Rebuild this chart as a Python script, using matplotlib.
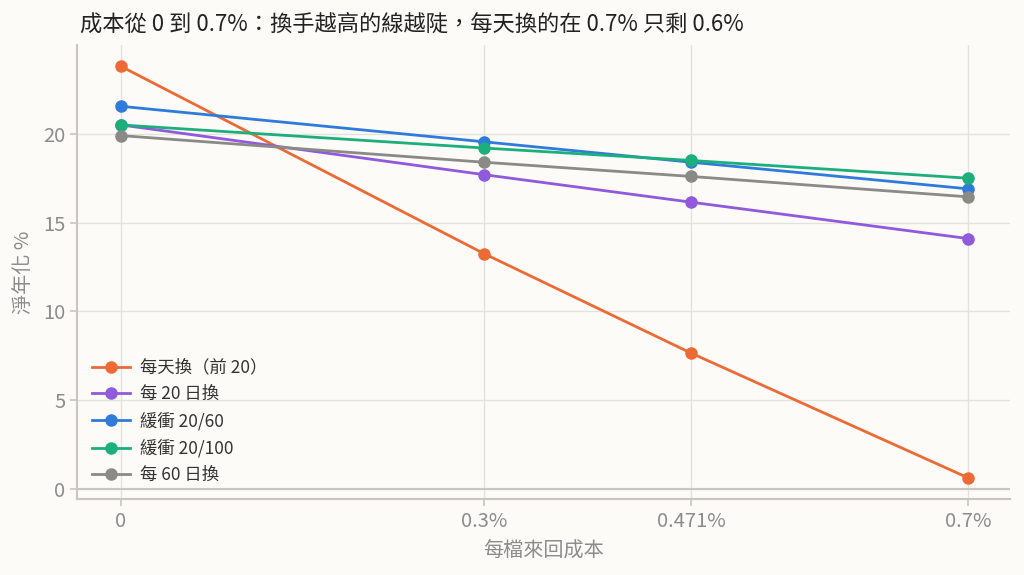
import matplotlib
matplotlib.use("Agg")
import matplotlib.pyplot as plt

plt.rcParams['font.family'] = ['Noto Sans CJK TC', 'DejaVu Sans']

costs = [0, 0.3, 0.471, 0.7]
tick_labels = ['0', '0.3%', '0.471%', '0.7%']
series_names = ['每天換（前 20）', '每 20 日換', '緩衝 20/60', '緩衝 20/100', '每 60 日換']
daily = [23.8, 13.25, 7.65, 0.62]
every20 = [20.5, 17.7, 16.15, 14.1]
buf60 = [21.55, 19.55, 18.4, 16.9]
buf100 = [20.5, 19.2, 18.5, 17.5]
every60 = [19.9, 18.4, 17.6, 16.45]
colors = ['#EE6A35', '#9159DB', '#2F7BDB', '#1CAF7B', '#8A8A86']

bg = '#FCFBF8'
fig = plt.figure(figsize=(10.24, 5.75), dpi=100, facecolor=bg)
ax = fig.add_axes([0.0752, 0.1322, 0.9108, 0.7895], facecolor=bg)

for name, vals, c in zip(series_names, [daily, every20, buf60, buf100, every60], colors):
    ax.plot(costs, vals, color=c, lw=2, marker='o', ms=8, label=name, zorder=3)

ax.axhline(0, color='#C8C6BE', lw=1.5, zorder=1)
ax.set_xlim(-0.0363, 0.734)
ax.set_ylim(-0.56, 25.0)
ax.set_xticks(costs)
ax.set_xticklabels(tick_labels)
ax.set_yticks([0, 5, 10, 15, 20])
ax.grid(True, color='#E4E2DC', lw=1, zorder=0)
ax.set_axisbelow(True)
for s in ['top', 'right']:
    ax.spines[s].set_visible(False)
for s in ['left', 'bottom']:
    ax.spines[s].set_color('#C8C6BE')
    ax.spines[s].set_linewidth(1.5)
ax.tick_params(colors='#C8C6BE', labelcolor='#8C8C8C', labelsize=14.5, length=5, width=1.2)

ax.set_xlabel('每檔來回成本', fontsize=14.5, color='#8C8C8C', labelpad=6)
ax.set_ylabel('淨年化 %', fontsize=14.5, color='#8C8C8C', labelpad=6)
fig.text(0.078, 0.958, '成本從 0 到 0.7%：換手越高的線越陡，每天換的在 0.7% 只剩 0.6%',
         fontsize=16, color='#222222', ha='left', va='center')

leg = ax.legend(loc='lower left', bbox_to_anchor=(-0.003, -0.006), frameon=False, fontsize=12.5,
                handlelength=2.2, handletextpad=0.6, labelspacing=0.5, borderaxespad=0.6)
for t in leg.get_texts():
    t.set_color('#333333')

fig.savefig('out.png', dpi=100, facecolor=bg)
